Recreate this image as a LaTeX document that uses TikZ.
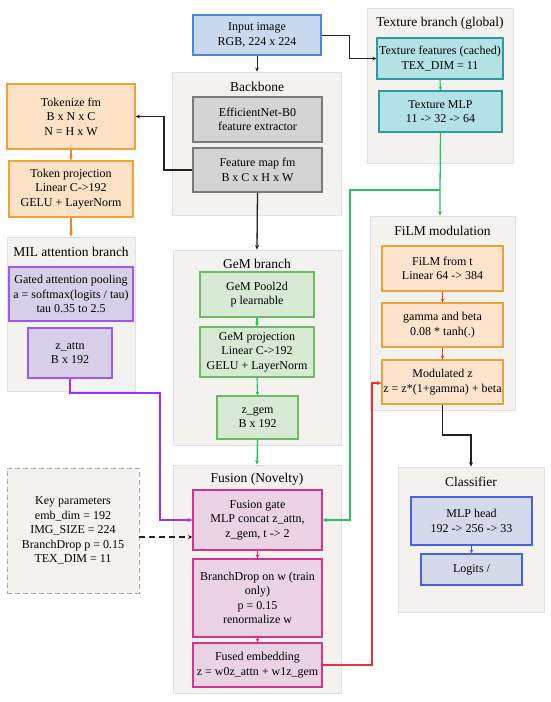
\documentclass[tikz,border=0pt]{standalone}
\usepackage{fontspec}
\setmainfont{Liberation Serif}
\usetikzlibrary{arrows.meta}
\definecolor{groupfill}{HTML}{F4F2EE}
\definecolor{groupdraw}{HTML}{E4DEEA}
\definecolor{inputfill}{HTML}{C9D9EE}
\definecolor{inputdraw}{HTML}{4F86D8}
\definecolor{grayfill}{HTML}{D4D4D4}
\definecolor{graydraw}{HTML}{7A7A7A}
\definecolor{texfill}{HTML}{B2E2E6}
\definecolor{texdraw}{HTML}{2E9A9C}
\definecolor{tokfill}{HTML}{FDE2C6}
\definecolor{tokdraw}{HTML}{F0A23A}
\definecolor{milfill}{HTML}{D8D0EA}
\definecolor{mildraw}{HTML}{9A5CF0}
\definecolor{gemfill}{HTML}{D6EAD4}
\definecolor{gemdraw}{HTML}{6DBB63}
\definecolor{filmfill}{HTML}{FEE4CC}
\definecolor{filmdraw}{HTML}{E8A33A}
\definecolor{fusfill}{HTML}{EAD3E4}
\definecolor{fusdraw}{HTML}{D6338A}
\definecolor{clsfill}{HTML}{D5DAEA}
\definecolor{clsdraw}{HTML}{4B5EE6}
\definecolor{keydraw}{HTML}{A8A8A8}
\definecolor{aorange}{HTML}{F5832A}
\definecolor{agreen}{HTML}{22C55E}
\definecolor{apurple}{HTML}{9B30FF}
\definecolor{ared}{HTML}{E8333A}
\definecolor{afilm}{HTML}{C4532A}
\definecolor{afus}{HTML}{D6237F}
\definecolor{ablue}{HTML}{3B5EE6}
\definecolor{adark}{HTML}{222222}
\begin{document}
\begin{tikzpicture}[x=1pt,y=-1pt,
  every node/.style={font=\fontsize{12}{14.5}\selectfont, align=center, inner sep=0pt},
  group/.style={fill=groupfill, draw=groupdraw, line width=0.8pt},
  gtitle/.style={font=\fontsize{13.5}{16}\selectfont},
  inbox/.style={fill=inputfill, draw=inputdraw, line width=1.2pt},
  graybox/.style={fill=grayfill, draw=graydraw, line width=1.2pt},
  texbox/.style={fill=texfill, draw=texdraw, line width=1.2pt},
  tokbox/.style={fill=tokfill, draw=tokdraw, line width=1.2pt},
  milbox/.style={fill=milfill, draw=mildraw, line width=1.2pt},
  gembox/.style={fill=gemfill, draw=gemdraw, line width=1.2pt},
  filmbox/.style={fill=filmfill, draw=filmdraw, line width=1.2pt},
  fusbox/.style={fill=fusfill, draw=fusdraw, line width=1.2pt},
  clsbox/.style={fill=clsfill, draw=clsdraw, line width=1.2pt},
  keybox/.style={fill=groupfill, draw=keydraw, dash pattern=on 5pt off 3pt, line width=0.9pt},
  conn/.style={line width=1.3pt, -{Stealth[length=4.5pt,width=4pt]}},
  thin conn/.style={line width=1.1pt, -{Stealth[length=4pt,width=3.6pt]}}
]
\useasboundingbox (0,0) rectangle (550,702);
\fill[white] (0,0) rectangle (550,702);

% groups
\node[group, minimum width=169, minimum height=143] (gback) at (257,143.5) {};
\node[gtitle] (tback) at (257,87) {Backbone};
\node[group, minimum width=146, minimum height=155] (gtex) at (440,85.5) {};
\node[gtitle] (ttex) at (440,23) {Texture branch (global)};
\node[group, minimum width=128, minimum height=154] (gmil) at (71,314) {};
\node[gtitle] (tmil) at (71,252) {MIL attention branch};
\node[group, minimum width=168, minimum height=195] (ggem) at (257,347.5) {};
\node[gtitle] (tgem) at (257,264) {GeM branch};
\node[group, minimum width=145, minimum height=194] (gfilm) at (442.5,313) {};
\node[gtitle] (tfilm) at (442.5,231) {FiLM modulation};
\node[group, minimum width=168, minimum height=228] (gfus) at (257,579) {};
\node[gtitle] (tfus) at (257,479) {Fusion (Novelty)};
\node[group, minimum width=146, minimum height=145] (gcls) at (471,539.5) {};
\node[gtitle] (tcls) at (471,482) {Classifier};

% nodes
\node[inbox, minimum width=128, minimum height=40] (input) at (257,35) {Input image\\RGB, 224 x 224};
\node[graybox, minimum width=129, minimum height=45] (eff) at (257.5,119.5) {EfficientNet-B0\\feature extractor};
\node[graybox, minimum width=129, minimum height=44] (fm) at (257.5,170) {Feature map fm\\B x C x H x W};
\node[texbox, minimum width=126, minimum height=41] (texf) at (440,58.5) {Texture features (cached)\\TEX\_DIM = 11};
\node[texbox, minimum width=123, minimum height=41] (texmlp) at (440.5,111.5) {Texture MLP\\11 -> 32 -> 64};
\node[tokbox, minimum width=128, minimum height=65] (tok) at (71,116.5) {Tokenize fm\\B x N x C\\N = H x W};
\node[tokbox, minimum width=124, minimum height=56] (tokp) at (71,189) {Token projection\\Linear C->192\\GELU + LayerNorm};
\node[milbox, minimum width=124, minimum height=54] (gap) at (71,294) {Gated attention pooling\\a = softmax(logits / tau)\\tau 0.35 to 2.5};
\node[milbox, minimum width=84, minimum height=50] (zattn) at (70,353) {z\_attn\\B x 192};
\node[gembox, minimum width=114, minimum height=45] (gemp) at (257,294.5) {GeM Pool2d\\p learnable};
\node[gembox, minimum width=114, minimum height=50] (gemproj) at (257,352) {GeM projection\\Linear C->192\\GELU + LayerNorm};
\node[gembox, minimum width=81, minimum height=43] (zgem) at (257.5,417.5) {z\_gem\\B x 192};
\node[filmbox, minimum width=121, minimum height=45] (filmt) at (442.5,268.5) {FiLM from t\\Linear 64 -> 384};
\node[filmbox, minimum width=121, minimum height=44] (gb) at (442.5,325) {gamma and beta\\0.08 * tanh(.)};
\node[filmbox, minimum width=121, minimum height=44] (modz) at (442.5,382) {Modulated z\\z = z*(1+gamma) + beta};
\node[clsbox, minimum width=121, minimum height=48] (mlph) at (471.5,521) {MLP head\\192 -> 256 -> 33};
\node[clsbox, minimum width=101, minimum height=31] (logits) at (471.5,569.5) {Logits /};
\node[fusbox, minimum width=129, minimum height=60] (gate) at (257.5,520) {Fusion gate\\MLP concat z\_attn,\\z\_gem, t -> 2};
\node[fusbox, minimum width=129, minimum height=78] (bdrop) at (257.5,598) {BranchDrop on w (train\\only)\\p = 0.15\\renormalize w};
\node[fusbox, minimum width=129, minimum height=44] (fused) at (257.5,665) {Fused embedding\\z = w0z\_attn + w1z\_gem};
\node[keybox, minimum width=132, minimum height=125] (key) at (73,530.5) {Key parameters\\emb\_dim = 192\\IMG\_SIZE = 224\\BranchDrop p = 0.15\\TEX\_DIM = 11};

% connectors
\draw[thin conn, adark, line width=0.9pt] (input.south) -- (gback.north);
\draw[thin conn, adark, line width=0.9pt] (input.east) -| (349,58.5) -- (texf.west);
\draw[conn, adark] (fm.west) -| (164,116.5) -- (tok.east);
\draw[conn, adark] (fm.south) -- (ggem.north);
\draw[thin conn, aorange] (tok.south) -- (tokp.north);
\draw[thin conn, aorange] (tokp.south) -- (gmil.north);
\draw[thin conn, agreen] (texf.south) -- (texmlp.north);
\coordinate (gsplit) at (440,190);
\draw[conn, agreen] (texmlp.south) -- (gsplit) -- (gfilm.north -| gsplit);
\draw[conn, agreen] (gsplit) -- (350,190) -- (350,520) -- (gate.east);
\draw[thin conn, agreen] (gemp.south) -- (gemproj.north);
\draw[thin conn, agreen] (gemproj.south) -- (zgem.north);
\draw[conn, agreen] (zgem.south) -- (gfus.north);
\draw[conn, apurple] (zattn.south) -- (70,393) -- (160,393) -- (160,520) -- (gate.west);
\draw[conn, adark, dash pattern=on 6pt off 4pt] (key.east |- 0,537) -- (gate.west |- 0,537);
\draw[thin conn, afus] (gate.south) -- (bdrop.north);
\draw[thin conn, afus] (bdrop.south) -- (fused.north);
\draw[conn, ared] (fused.east) -- (372,665) -- (372,383) -- (modz.west |- 0,383);
\draw[thin conn, afilm] (filmt.south) -- (gb.north);
\draw[thin conn, afilm] (gb.south) -- (modz.north);
\draw[conn, adark] (modz.south) -- (442.5,435) -- (471,435) -- (gcls.north);
\draw[thin conn, ablue] (mlph.south) -- (logits.north);
\end{tikzpicture}
\end{document}
